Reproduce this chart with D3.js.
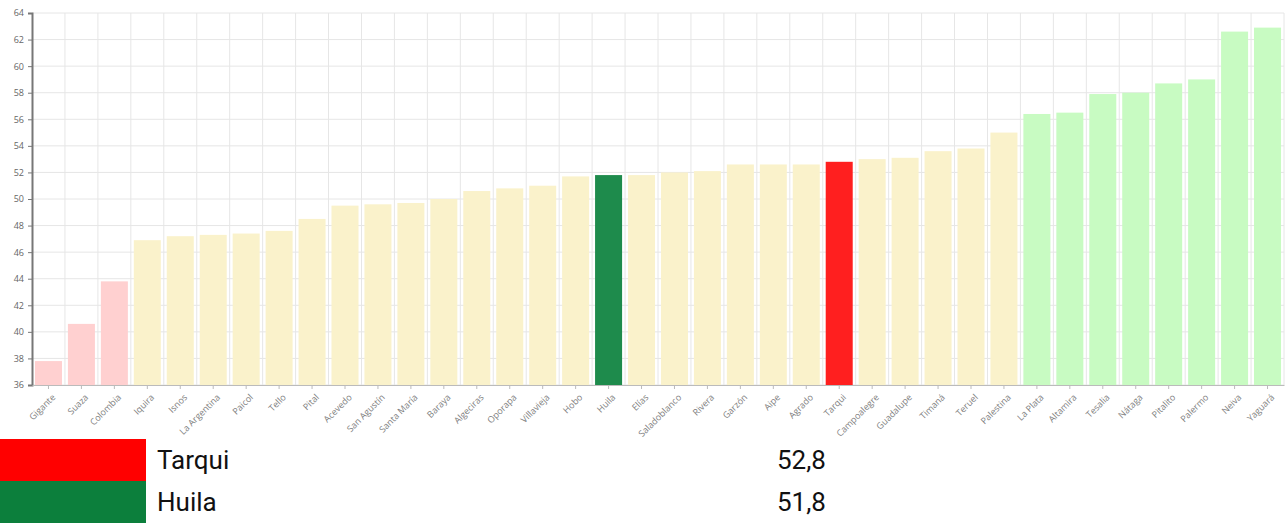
<!DOCTYPE html>
<html><head><meta charset="utf-8">
<script src="https://cdn.jsdelivr.net/npm/d3@7"></script>
<style>body{margin:0;background:#fff;} text{font-family:"Open Sans",sans-serif;}</style>
</head><body><svg id="c" width="1285" height="523"></svg>
<script>
const categories = ["Gigante","Suaza","Colombia","Iquira","Isnos","La Argentina","Paicol","Tello","Pital","Acevedo","San Agustín","Santa María","Baraya","Algeciras","Oporapa","Villavieja","Hobo","Huila","Elías","Saladoblanco","Rivera","Garzón","Aipe","Agrado","Tarqui","Campoalegre","Guadalupe","Timaná","Teruel","Palestina","La Plata","Altamira","Tesalia","Nátaga","Pitalito","Palermo","Neiva","Yaguará"];
const values = [37.8,40.6,43.8,46.9,47.2,47.3,47.4,47.6,48.5,49.5,49.6,49.7,50.0,50.6,50.8,51.0,51.7,51.8,51.8,52.0,52.1,52.6,52.6,52.6,52.8,53.0,53.1,53.6,53.8,55.0,56.4,56.5,57.9,58.0,58.7,59.0,62.6,62.9];
const groups = ["low","low","low","mid","mid","mid","mid","mid","mid","mid","mid","mid","mid","mid","mid","mid","mid","huila","mid","mid","mid","mid","mid","mid","tarqui","mid","mid","mid","mid","mid","high","high","high","high","high","high","high","high"];
const yTicks = [36,38,40,42,44,46,48,50,52,54,56,58,60,62,64];
const legendNames = ["Tarqui","Huila"];
const legendValues = ["52,8","51,8"];

const colors = {low:"#ffd0d0", mid:"#faf2cb", high:"#c8fbc2", huila:"#1e8b4c", tarqui:"#ff1f1f"};
const legendColors = ["#ff0000","#0c7f3c"];

const svg = d3.select("#c");
const mLeft = 32, mRight = 1284, mTop = 13, mBottom = 385;
const x = d3.scaleBand().domain(categories).range([mLeft, mRight]).paddingInner(0.18).paddingOuter(0.09);
const xb = d3.scaleBand().domain(categories).range([mLeft, mRight]);
const y = d3.scaleLinear().domain([36,64]).range([mBottom, mTop]);

// grid
svg.append("g").selectAll("line").data(yTicks).join("line")
  .attr("x1", mLeft).attr("x2", mRight).attr("y1", d=>y(d)).attr("y2", d=>y(d))
  .attr("stroke","#e6e6e6").attr("stroke-width",1);
const vgrid = categories.slice(1).map(d=>xb(d)).concat([mRight]);
svg.append("g").selectAll("line").data(vgrid).join("line")
  .attr("x1", d=>d).attr("x2", d=>d)
  .attr("y1", mTop).attr("y2", mBottom).attr("stroke","#e6e6e6").attr("stroke-width",1);

// bars
svg.append("g").selectAll("rect").data(categories).join("rect")
  .attr("x", d=>x(d)).attr("width", x.bandwidth())
  .attr("y", (d,i)=>y(values[i])).attr("height", (d,i)=>y(36)-y(values[i]))
  .attr("fill", (d,i)=>colors[groups[i]]);

// axes
const ya = svg.append("g").attr("transform",`translate(${mLeft},0)`)
  .call(d3.axisLeft(y).tickValues(yTicks).tickSize(4).tickPadding(4).tickFormat(d3.format("d")));
ya.select(".domain").attr("stroke","#777").attr("stroke-width",2);
ya.selectAll(".tick line").attr("stroke","#777");
ya.selectAll("text").attr("fill","#666").style("font-size","9px").style("font-family","Open Sans");

const xa = svg.append("g").attr("transform",`translate(0,${mBottom})`)
  .call(d3.axisBottom(xb).tickSize(4).tickSizeOuter(0));
xa.select(".domain").attr("stroke","#bbb");
xa.selectAll(".tick line").attr("stroke","#bbb");
xa.selectAll("text").attr("fill","#808080").style("font-size","9px").style("font-family","Open Sans")
  .attr("text-anchor","end").attr("dx","-0.2em").attr("dy","0.6em")
  .attr("transform","rotate(-45) translate(-2,2)");

// legend
const lg = svg.append("g");
legendNames.forEach((n,i)=>{
  const yy = 439 + i*42;
  lg.append("rect").attr("x",0).attr("y",yy).attr("width",146).attr("height",42).attr("fill",legendColors[i]);
  lg.append("text").attr("x",157).attr("y",yy+30).text(n).style("font-family","Roboto").style("font-size","26px").attr("fill","#111");
  lg.append("text").attr("x",777).attr("y",yy+30).text(legendValues[i]).style("font-family","Roboto").style("font-size","26px").attr("fill","#111");
});
</script></body></html>
